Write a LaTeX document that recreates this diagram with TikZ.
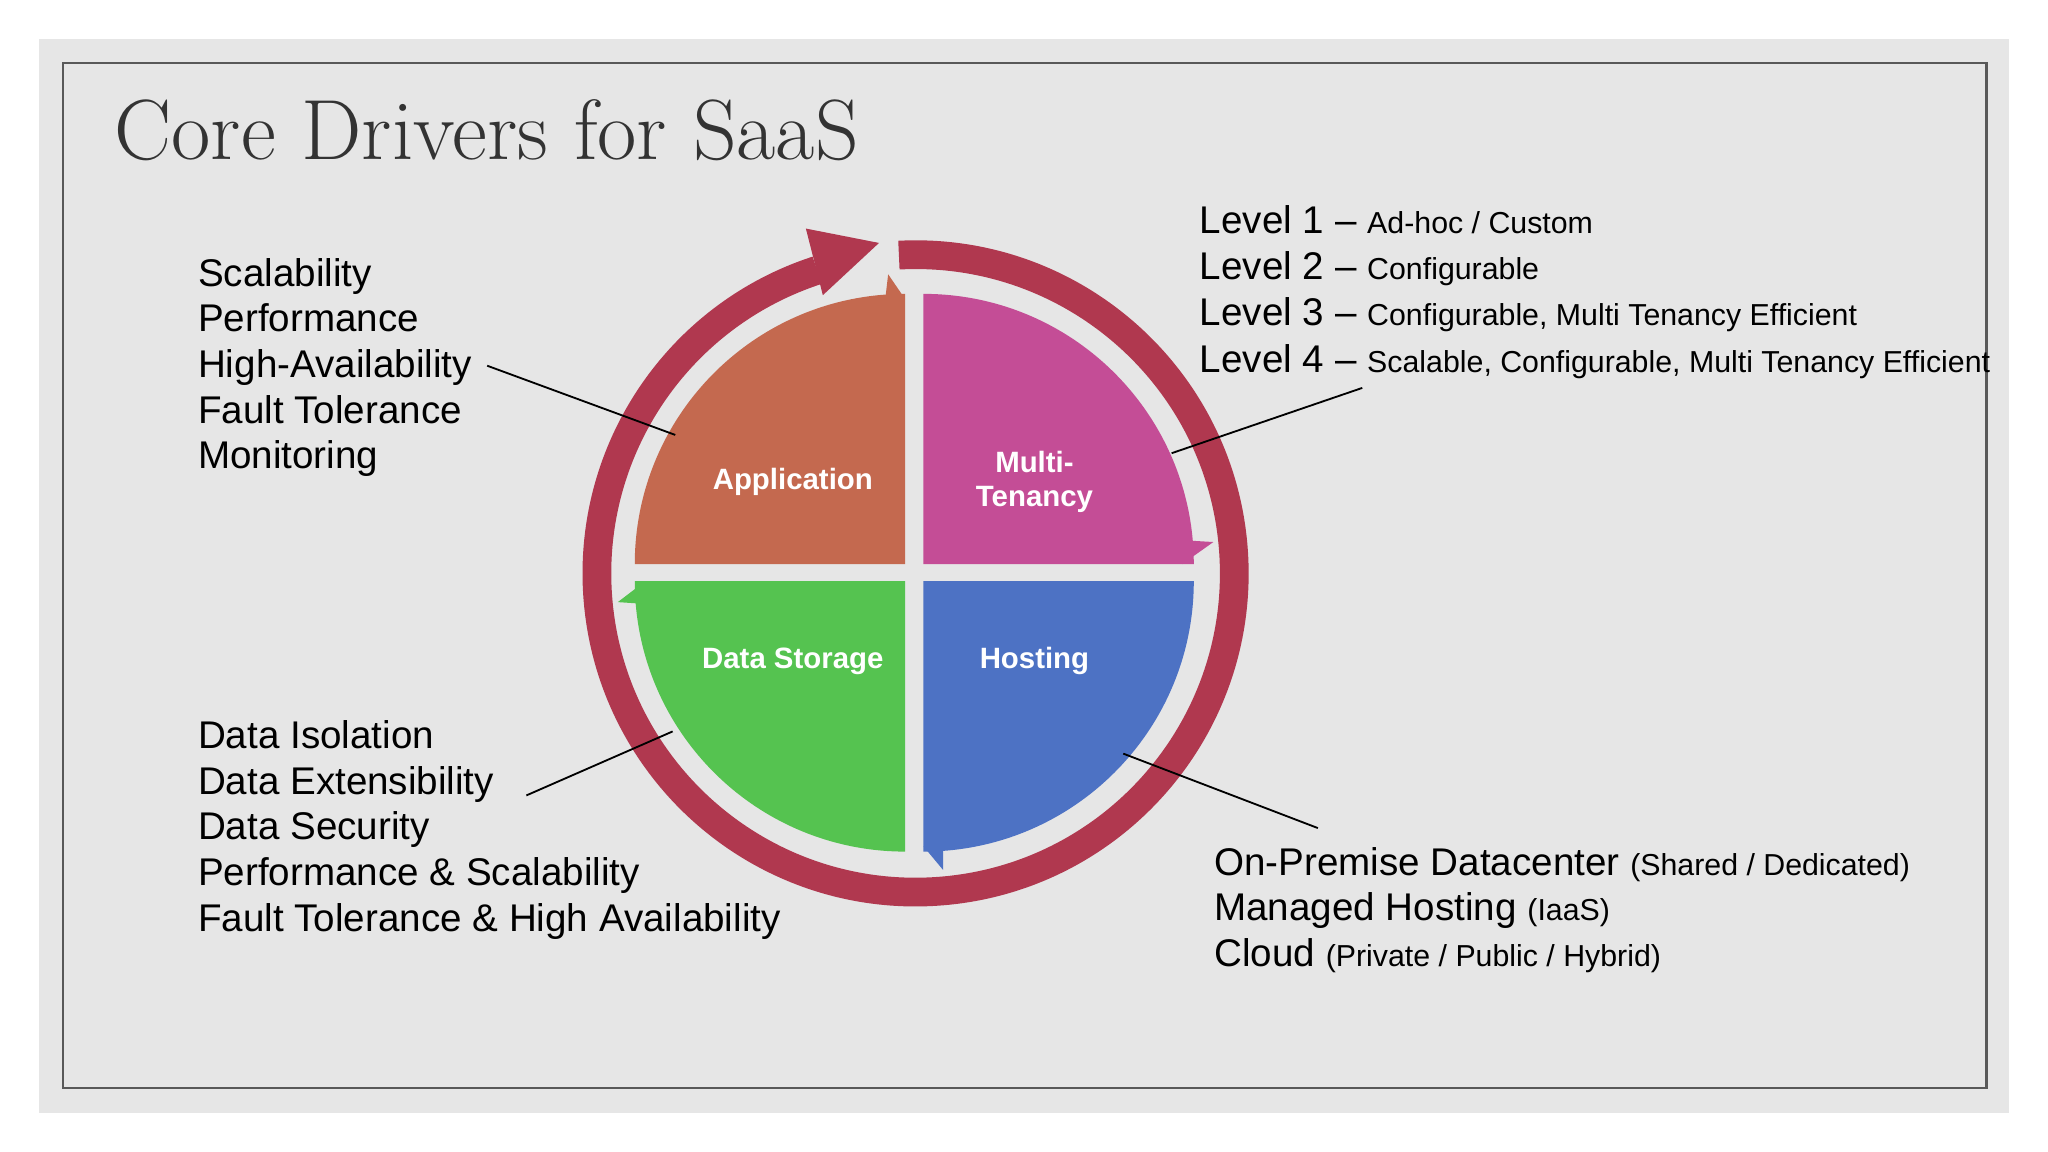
\documentclass[tikz,border=0pt]{standalone}
\usepackage{fontspec}
\setmainfont{Liberation Sans}
\newfontfamily\titlefont{Latin Modern Roman}
\newcommand{\sm}[1]{{\fontsize{6.6}{8}\selectfont #1}}
\begin{document}
\begin{tikzpicture}[x=0.01cm,y=-0.01cm,
  big/.style={anchor=base west,inner sep=0pt,font=\fontsize{8.4}{9}\selectfont},
  qlab/.style={text=white,font=\bfseries\fontsize{6.4}{7.4}\selectfont,align=center},
  lead/.style={black,line width=0.4pt}]
\definecolor{bg}{HTML}{E6E6E6}
\definecolor{ringc}{HTML}{B0384F}
\definecolor{appc}{HTML}{C4694F}
\definecolor{multc}{HTML}{C44D96}
\definecolor{hostc}{HTML}{4D72C4}
\definecolor{datac}{HTML}{55C350}
\useasboundingbox (0,0) rectangle (1568,882);
\fill[white] (0,0) rectangle (1568,882);
\fill[bg] (30,30) rectangle (1538,852);
\draw[black!65,line width=0.5pt] (48,48) rectangle (1521,833);
\node[anchor=base west,inner sep=0pt,text=black!80,font=\titlefont\fontsize{18.6}{21}\selectfont] (title) at (87,122) {Core Drivers for SaaS};
\coordinate (c) at (701,439);
% ring
\draw[ringc,line width=0.22cm] ([shift={(-93:244)}]c) arc[start angle=-93,end angle=252,radius=244];
\fill[ringc] (617,175) -- (630,226) -- (673,186) -- cycle;
% quadrants
\fill[appc] (693,432) -- (486,432) arc[start angle=-180,end angle=-90,radius=207] -- cycle;
\fill[appc] (678,227) -- (680,210) -- (693,229) -- cycle;
\fill[multc] (707,432) -- (707,225) arc[start angle=-90,end angle=0,radius=207] -- cycle;
\fill[multc] (912,414) -- (929,415) -- (905,432) -- cycle;
\fill[hostc] (707,445) -- (914,445) arc[start angle=0,end angle=90,radius=207] -- cycle;
\fill[hostc] (707,648) -- (722,666) -- (722,651) -- cycle;
\fill[datac] (693,445) -- (693,652) arc[start angle=90,end angle=180,radius=207] -- cycle;
\fill[datac] (488,462) -- (473,461) -- (494,445) -- cycle;
\node[qlab] (app) at (607,369) {Application};
\node[qlab] (mt) at (792,369) {Multi-\\Tenancy};
\node[qlab] (ds) at (607,506) {Data Storage};
\node[qlab] (ho) at (792,506) {Hosting};
\coordinate (pa) at (517,333);
\coordinate (pm) at (897,347);
\coordinate (pd) at (515,560);
\coordinate (ph) at (860,577);
% left top list
\node[big] (l1) at (151,219) {Scalability};
\node[big] (l2) at (151,254) {Performance};
\node[big] (l3) at (151,289) {High-Availability};
\node[big] (l4) at (151,324) {Fault Tolerance};
\node[big] (l5) at (151,359) {Monitoring};
% levels
\node[big] (v1) at (918,179) {Level 1 -- \sm{Ad-hoc / Custom}};
\node[big] (v2) at (918,214) {Level 2 -- \sm{Configurable}};
\node[big] (v3) at (918,249) {Level 3 -- \sm{Configurable, Multi Tenancy Efficient}};
\node[big] (v4) at (918,285) {Level 4 -- \sm{Scalable, Configurable, Multi Tenancy Efficient}};
% bottom left
\node[big] (d1) at (151,573) {Data Isolation};
\node[big] (d2) at (151,608) {Data Extensibility};
\node[big] (d3) at (151,643) {Data Security};
\node[big] (d4) at (151,678) {Performance \& Scalability};
\node[big] (d5) at (151,713) {Fault Tolerance \& High Availability};
% bottom right
\node[big] (h1) at (929,670) {On-Premise Datacenter \sm{(Shared / Dedicated)}};
\node[big] (h2) at (929,705) {Managed Hosting \sm{(IaaS)}};
\node[big] (h3) at (929,740) {Cloud \sm{(Private / Public / Hybrid)}};
% leaders
\coordinate (la) at (373,280);
\coordinate (lm) at (1043,297);
\coordinate (ld) at (403,609);
\coordinate (lh) at (1009,634);
\draw[lead] (la) -- (pa);
\draw[lead] (lm) -- (pm);
\draw[lead] (ld) -- (pd);
\draw[lead] (lh) -- (ph);
\end{tikzpicture}
\end{document}
